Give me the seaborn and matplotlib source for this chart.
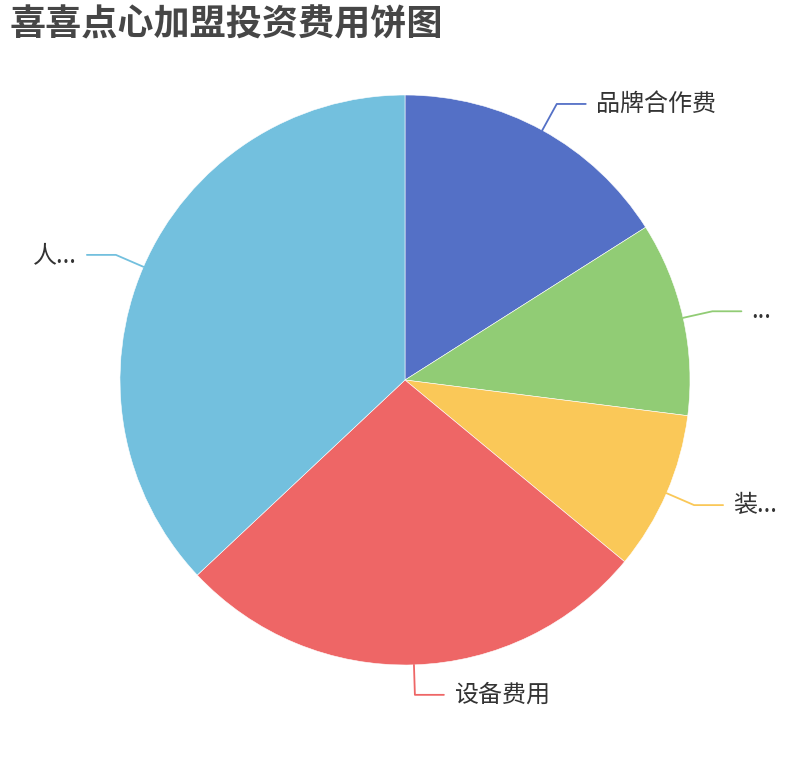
import numpy as np
import matplotlib
matplotlib.use("Agg")
import matplotlib.pyplot as plt
import seaborn as sns

title = "喜喜点心加盟投资费用饼图"
categories = ["品牌合作费", "...", "装...", "设备费用", "人..."]
values = [16, 11, 9, 27, 37]
colors = ["#5470c6", "#91cc75", "#fac858", "#ee6666", "#73c0de"]

sns.set_theme(style="white")
plt.rcParams['font.family'] = ['Noto Sans CJK SC', 'DejaVu Sans']

W, H = 810, 760
fig = plt.figure(figsize=(W / 100, H / 100), dpi=100)
ax = fig.add_axes([0, 0, 1, 1])
cx, cy, R = 405, H - 380, 285
wedges, _ = ax.pie(values, colors=colors, startangle=90, counterclock=False,
                   center=(cx, cy), radius=R,
                   wedgeprops=dict(edgecolor='white', linewidth=0.4))
ax.set_xlim(0, W)
ax.set_ylim(0, H)
ax.set_aspect('equal')
ax.axis('off')

for w, lab, col in zip(wedges, categories, colors):
    mid = np.deg2rad((w.theta1 + w.theta2) / 2)
    x0, y0 = cx + R * np.cos(mid), cy + R * np.sin(mid)
    x1, y1 = cx + (R + 30) * np.cos(mid), cy + (R + 30) * np.sin(mid)
    s = 1 if x1 >= cx else -1
    x2 = x1 + s * 29
    ax.plot([x0, x1, x2], [y0, y1, y1], color=col, lw=1.3)
    ax.text(x2 + s * 10, y1, lab, ha='left' if s > 0 else 'right', va='center',
            fontsize=17.3, color='#333333')

fig.text(10 / W, 1 - 25 / H, title, ha='left', va='center', fontsize=26,
         fontweight='bold', color='#464646')
fig.savefig('out.png', dpi=100)
